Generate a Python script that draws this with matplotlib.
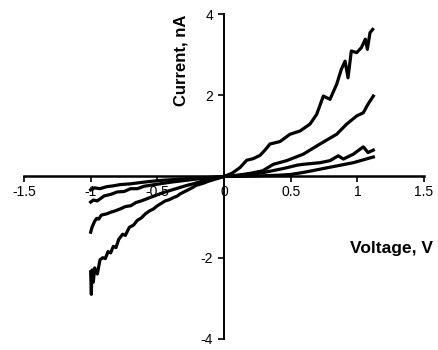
import matplotlib
matplotlib.use('Agg')
import matplotlib.pyplot as plt

plt.rcParams['font.family'] = ['Liberation Sans', 'DejaVu Sans']
plt.rcParams['axes.unicode_minus'] = False

# I-V sweeps, voltage in V, current in nA
v_a = [-1.00, -0.995, -0.99, -0.98, -0.97, -0.95, -0.93, -0.91, -0.89, -0.87,
       -0.85, -0.83, -0.81, -0.79, -0.76, -0.74, -0.71, -0.68, -0.65, -0.62,
       -0.59, -0.56, -0.53, -0.50, -0.47, -0.44, -0.41, -0.38, -0.35, -0.33,
       -0.30, -0.27, -0.24, -0.21, -0.18, -0.15, -0.12, -0.09, -0.06, -0.03,
       0.00, 0.06, 0.12, 0.17, 0.22, 0.27, 0.31, 0.345, 0.42, 0.495, 0.57,
       0.645, 0.695, 0.745, 0.795, 0.845, 0.88, 0.908, 0.93, 0.955, 0.995,
       1.03, 1.06, 1.075, 1.095, 1.115]
i_a = [-2.35, -2.9, -2.3, -2.6, -2.25, -2.4, -2.05, -2.0, -2.02, -1.85,
       -1.88, -1.72, -1.75, -1.55, -1.42, -1.45, -1.25, -1.2, -1.08, -1.02,
       -0.92, -0.85, -0.8, -0.72, -0.66, -0.6, -0.57, -0.52, -0.48, -0.43,
       -0.38, -0.33, -0.28, -0.22, -0.19, -0.16, -0.12, -0.09, -0.06, -0.03,
       0.0, 0.08, 0.22, 0.4, 0.44, 0.52, 0.66, 0.8, 0.86, 1.04, 1.12,
       1.29, 1.53, 1.98, 1.9, 2.27, 2.64, 2.84, 2.43, 3.09, 3.05,
       3.17, 3.38, 3.13, 3.54, 3.62]

v_b = [-1.00, -0.99, -0.97, -0.955, -0.94, -0.92, -0.88, -0.85, -0.82, -0.78,
       -0.74, -0.70, -0.66, -0.62, -0.58, -0.54, -0.50, -0.46, -0.42, -0.38,
       -0.33, -0.28, -0.23, -0.18, -0.12, -0.06, 0.00, 0.10, 0.20, 0.29,
       0.37, 0.47, 0.595, 0.72, 0.845, 0.92, 0.995, 1.045, 1.08, 1.12]
i_b = [-1.37, -1.25, -1.1, -1.03, -1.05, -0.95, -0.92, -0.88, -0.85, -0.8,
       -0.74, -0.72, -0.64, -0.6, -0.55, -0.5, -0.45, -0.4, -0.36, -0.32,
       -0.27, -0.22, -0.18, -0.13, -0.08, -0.04, 0.0, 0.03, 0.08, 0.14,
       0.3, 0.39, 0.55, 0.8, 1.04, 1.29, 1.49, 1.57, 1.78, 1.98]

v_c = [-1.00, -0.98, -0.95, -0.90, -0.85, -0.80, -0.75, -0.70, -0.65, -0.60,
       -0.50, -0.40, -0.30, -0.20, -0.10, 0.00, 0.15, 0.30, 0.45, 0.55,
       0.595, 0.72, 0.795, 0.857, 0.895, 0.97, 1.045, 1.08, 1.12]
i_c = [-0.63, -0.58, -0.6, -0.48, -0.44, -0.38, -0.37, -0.3, -0.3, -0.24,
       -0.19, -0.14, -0.1, -0.06, -0.03, 0.0, 0.04, 0.1, 0.2, 0.28,
       0.3, 0.34, 0.39, 0.51, 0.43, 0.55, 0.73, 0.59, 0.65]

v_d = [-1.00, -0.97, -0.93, -0.88, -0.83, -0.78, -0.70, -0.63, -0.55, -0.45,
       -0.35, -0.25, -0.15, 0.00, 0.20, 0.40, 0.50, 0.595, 0.72, 0.845,
       0.97, 1.12]
i_d = [-0.33, -0.28, -0.3, -0.25, -0.23, -0.2, -0.18, -0.15, -0.12, -0.09,
       -0.07, -0.05, -0.03, 0.0, 0.01, 0.03, 0.05, 0.1, 0.18, 0.26,
       0.34, 0.48]

x_ticks = [-1.5, -1, -0.5, 0, 0.5, 1, 1.5]
x_tick_labels = ['-1.5', '-1', '-0.5', '0', '0.5', '1', '1.5']
y_ticks = [-4, -2, 2, 4]

fig = plt.figure(figsize=(4.38, 3.5), dpi=100)
ax = fig.add_axes([24 / 438, 1 - 339 / 350, 400 / 438, 325 / 350])

for v, i in [(v_a, i_a), (v_b, i_b), (v_c, i_c), (v_d, i_d)]:
    ax.plot(v, i, color='black', linewidth=2.3, solid_joinstyle='round')

ax.set_xlim(-1.5, 1.5)
ax.set_ylim(-4, 4)

# axes cross at the origin
ax.spines['left'].set_position(('data', 0))
ax.spines['bottom'].set_position(('data', 0))
ax.spines['right'].set_visible(False)
ax.spines['top'].set_visible(False)
ax.spines['left'].set_linewidth(1.4)
ax.spines['bottom'].set_linewidth(1.8)

ax.set_xticks(x_ticks)
ax.set_xticklabels(x_tick_labels)
ax.set_yticks(y_ticks)
ax.tick_params(axis='x', direction='out', length=4, width=1.2, pad=2, labelsize=10)
ax.tick_params(axis='y', direction='out', length=4, width=1.2, pad=4, labelsize=10)

fig.text(181 / 438, 1 - 60 / 350, 'Current, nA', rotation=90, fontsize=12,
         fontweight='bold', ha='center', va='center')
fig.text(392 / 438, 1 - 249 / 350, 'Voltage, V', fontsize=12.5,
         fontweight='bold', ha='center', va='center')

fig.savefig('out.png', dpi=100)
